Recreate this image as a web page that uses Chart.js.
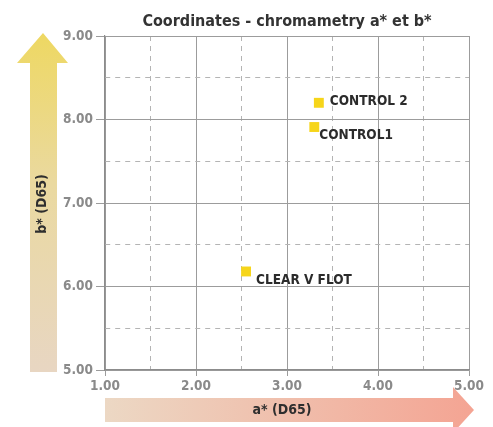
<!DOCTYPE html>
<html>
<head>
<meta charset="utf-8">
<script src="https://cdn.jsdelivr.net/npm/chart.js@4"></script>
<style>
  html, body { margin: 0; padding: 0; background: #fff; }
  #wrap { width: 493px; height: 427px; }
</style>
</head>
<body>
<div id="wrap"><canvas id="chart" width="493" height="427"></canvas></div>
<script>
  // samples and their a*/b* coordinates
  const sampleNames = ['CONTROL 2', 'CONTROL1', 'CLEAR V FLOT'];
  const aValues = [3.35, 3.30, 2.55];
  const bValues = [8.20, 7.91, 6.18];

  const xMin = 1, xMax = 5, yMin = 5, yMax = 9;

  // where each name sits relative to its square (px)
  const labelOffsets = [[11, -1], [5, 8], [10, 9]];

  const FONT = "'DejaVu Sans Condensed', 'DejaVu Sans', sans-serif";
  const isWhole = v => Math.abs(v - Math.round(v)) < 1e-6;

  const points = aValues.map((a, i) => ({ x: a, y: bValues[i] }));

  const arrows = {
    id: 'arrows',
    beforeDraw(chart) {
      const ctx = chart.ctx;
      const area = chart.chartArea;
      ctx.save();

      // vertical b* arrow
      let g = ctx.createLinearGradient(0, area.top - 3, 0, area.bottom);
      g.addColorStop(0, '#eed862');
      g.addColorStop(0.45, '#ead9a0');
      g.addColorStop(1, '#e8d6c2');
      ctx.fillStyle = g;
      ctx.beginPath();
      ctx.moveTo(area.left - 75, area.bottom + 2);
      ctx.lineTo(area.left - 75, area.top + 27);
      ctx.lineTo(area.left - 88, area.top + 27);
      ctx.lineTo(area.left - 62, area.top - 3);
      ctx.lineTo(area.left - 37, area.top + 27);
      ctx.lineTo(area.left - 48, area.top + 27);
      ctx.lineTo(area.left - 48, area.bottom + 2);
      ctx.closePath();
      ctx.fill();

      // horizontal a* arrow
      g = ctx.createLinearGradient(area.left, 0, area.right + 5, 0);
      g.addColorStop(0, '#ecd8c4');
      g.addColorStop(1, '#f4a493');
      ctx.fillStyle = g;
      ctx.beginPath();
      ctx.moveTo(area.left, area.bottom + 28);
      ctx.lineTo(area.right - 16, area.bottom + 28);
      ctx.lineTo(area.right - 16, area.bottom + 17);
      ctx.lineTo(area.right + 5, area.bottom + 40);
      ctx.lineTo(area.right - 16, area.bottom + 63);
      ctx.lineTo(area.right - 16, area.bottom + 52);
      ctx.lineTo(area.left, area.bottom + 52);
      ctx.closePath();
      ctx.fill();

      ctx.fillStyle = '#2e2e2e';
      ctx.font = 'bold 14px ' + FONT;
      ctx.textAlign = 'center';
      ctx.textBaseline = 'middle';
      ctx.fillText('a* (D65)', (area.left + area.right) / 2 - 5, area.bottom + 40);

      ctx.translate(area.left - 63, (area.top + area.bottom) / 2);
      ctx.rotate(-Math.PI / 2);
      ctx.fillText('b* (D65)', -1, 0);
      ctx.restore();
    }
  };

  const pointLabels = {
    id: 'pointLabels',
    afterDatasetsDraw(chart) {
      const ctx = chart.ctx;
      const xs = chart.scales.x, ys = chart.scales.y;
      ctx.save();
      ctx.fillStyle = '#2b2b2b';
      ctx.font = 'bold 13.5px ' + FONT;
      ctx.textAlign = 'left';
      ctx.textBaseline = 'middle';
      sampleNames.forEach((name, i) => {
        const px = xs.getPixelForValue(aValues[i]) + labelOffsets[i][0];
        const py = ys.getPixelForValue(bValues[i]) + labelOffsets[i][1];
        ctx.fillText(name, px, py);
      });
      ctx.restore();
    }
  };

  function gridOpts(len) {
    return {
      color: c => (c.tick && !isWhole(c.tick.value)) ? '#b4b4b4' : '#9c9c9c',
      tickColor: c => (c.tick && !isWhole(c.tick.value)) ? 'rgba(0,0,0,0)' : '#9c9c9c',
      tickLength: len,
      lineWidth: 1
    };
  }

  function borderOpts() {
    return {
      display: true,
      color: '#8c8c8c',
      width: 1.2,
      dash: c => (c.tick && !isWhole(c.tick.value)) ? [5, 5] : []
    };
  }

  const tickFont = { family: FONT, size: 13.5, weight: 'bold' };

  new Chart(document.getElementById('chart'), {
    type: 'scatter',
    data: {
      datasets: [{
        data: points,
        pointStyle: 'rect',
        pointRadius: 7,
        pointHoverRadius: 7,
        borderWidth: 0,
        backgroundColor: '#f6d51a'
      }]
    },
    options: {
      responsive: false,
      animation: false,
      events: [],
      layout: { padding: { left: 0, right: 24, top: 0, bottom: 0 } },
      plugins: {
        legend: { display: false },
        tooltip: { enabled: false },
        title: {
          display: true,
          text: 'Coordinates - chromametry a* et b*',
          fullSize: false,
          color: '#333',
          font: { family: FONT, size: 16, weight: 'bold', lineHeight: 1.2 },
          padding: { top: 12, bottom: 4.8 }
        }
      },
      scales: {
        x: {
          type: 'linear',
          min: xMin,
          max: xMax,
          afterFit: s => { s.height = 57; },
          ticks: {
            stepSize: 0.5,
            autoSkip: false,
            maxRotation: 0,
            padding: 2,
            color: '#8a8a8a',
            font: tickFont,
            callback: v => isWhole(v) ? v.toFixed(2) : ''
          },
          grid: gridOpts(6),
          border: borderOpts()
        },
        y: {
          type: 'linear',
          min: yMin,
          max: yMax,
          afterFit: s => { s.width = 105; },
          ticks: {
            stepSize: 0.5,
            autoSkip: false,
            padding: 3,
            color: '#8a8a8a',
            font: tickFont,
            callback: v => isWhole(v) ? v.toFixed(2) : ''
          },
          grid: gridOpts(9),
          border: borderOpts()
        }
      }
    },
    plugins: [arrows, pointLabels]
  });
</script>
</body>
</html>
